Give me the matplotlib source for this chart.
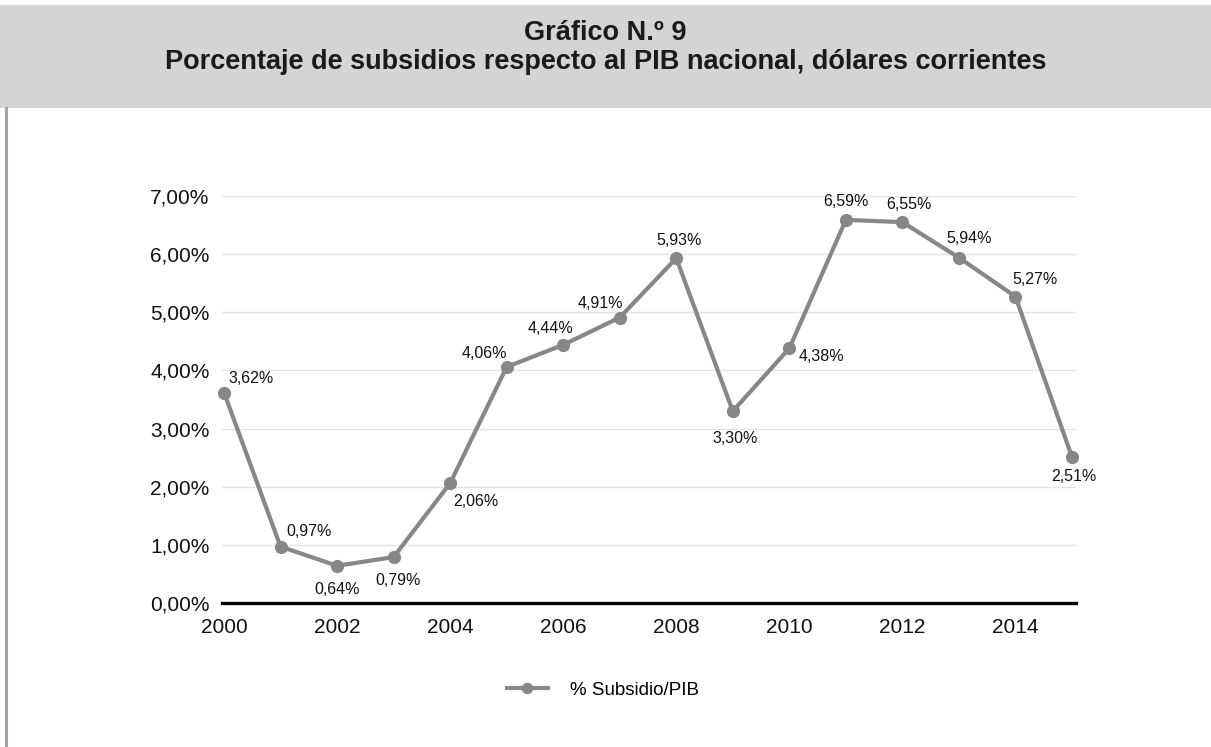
import matplotlib.pyplot as plt
from matplotlib.patches import Rectangle
from matplotlib.lines import Line2D

years = list(range(2000, 2016))
subsidio_pib = [3.62, 0.97, 0.64, 0.79, 2.06, 4.06, 4.44, 4.91,
                5.93, 3.30, 4.38, 6.59, 6.55, 5.94, 5.27, 2.51]
yticks = [0, 1, 2, 3, 4, 5, 6, 7]
xticks = list(range(2000, 2016, 2))
title_1 = 'Gráfico N.º 9'
title_2 = 'Porcentaje de subsidios respecto al PIB nacional, dólares corrientes'
series_name = '% Subsidio/PIB'

# where each data label goes, relative to its point (points, ha)
label_pos = [(3, 10, 'left'), (4, 11, 'left'), (0, -17, 'center'), (3, -17, 'center'),
             (2, -13, 'left'), (-16, 10, 'center'), (-9, 12, 'center'), (-14, 10, 'center'),
             (2, 13, 'center'), (2, -20, 'center'), (7, -6, 'left'), (0, 13, 'center'),
             (5, 13, 'center'), (7, 14, 'center'), (14, 12, 'center'), (1, -14, 'center')]

line_col = '#86878b'
regular = ['Liberation Sans', 'DejaVu Sans']

def pct(v):
    return f'{v:.2f}'.replace('.', ',') + '%'

fig = plt.figure(figsize=(12.11, 7.47), dpi=100)

# grey header band and left frame line
fig.patches.append(Rectangle((0, 1 - 108 / 747), 1, 103 / 747, transform=fig.transFigure,
                             facecolor='#d3d4d6', edgecolor='none', zorder=0))
fig.lines.append(Line2D([5.5 / 1211, 5.5 / 1211], [0, 1 - 108 / 747], transform=fig.transFigure,
                        color='#a3a3a5', linewidth=2.2))
fig.text(0.5, 1 - 33 / 747, title_1, ha='center', va='center', fontsize=19.5,
         fontweight='bold', family=regular, color='#1a1a1a')
fig.text(0.5, 1 - 62 / 747, title_2, ha='center', va='center', fontsize=19.5,
         fontweight='bold', family=regular, color='#1a1a1a')

ax = fig.add_axes([222 / 1211, 1 - 603 / 747, 854 / 1211, 407 / 747])
ax.plot(years, subsidio_pib, color=line_col, linewidth=3, marker='o', markersize=8.5,
        label=series_name, zorder=3, clip_on=False)

for x, v, (dx, dy, ha) in zip(years, subsidio_pib, label_pos):
    ax.annotate(pct(v), (x, v), xytext=(dx, dy), textcoords='offset points',
                ha=ha, va='center', fontsize=11.5, family=regular, color='#111111')

ax.set_xlim(2000 - 2 / 56.5, 2015 + 4 / 56.5)
ax.set_ylim(0, 7)
ax.set_yticks(yticks)
ax.set_yticklabels([pct(t) for t in yticks], family=regular, fontsize=15)
ax.set_xticks(xticks)
ax.set_xticklabels([str(t) for t in xticks], family=regular, fontsize=15)
ax.tick_params(length=0, pad=9, colors='#111111')
ax.tick_params(axis='x', pad=11)
ax.grid(axis='y', color='#e5e5e5', linewidth=1)
ax.set_axisbelow(True)
for s in ['top', 'right', 'left']:
    ax.spines[s].set_visible(False)
ax.spines['bottom'].set_linewidth(2.4)
ax.spines['bottom'].set_color('black')
ax.spines['bottom'].set_zorder(4)

leg = fig.legend(loc='center', bbox_to_anchor=(603 / 1211, 1 - 690 / 747), frameon=False,
                 prop={'family': regular, 'size': 13.5}, handlelength=2.2,
                 handletextpad=1.2, markerscale=0.85)

fig.savefig('out.png', dpi=100, facecolor='white')
